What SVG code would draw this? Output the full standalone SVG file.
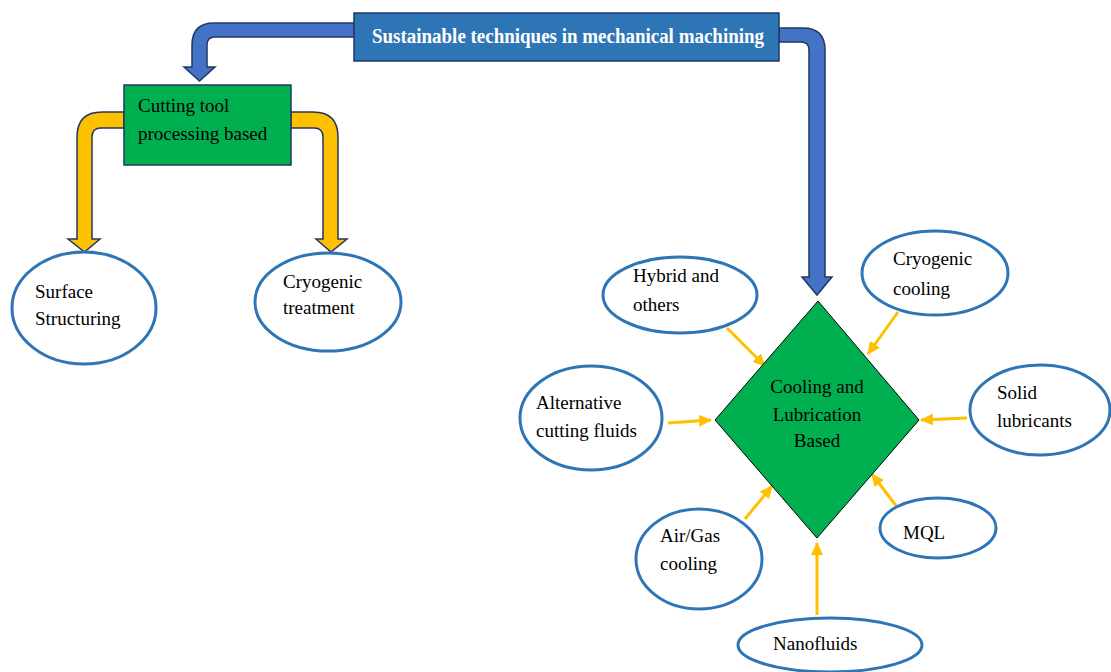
<svg xmlns="http://www.w3.org/2000/svg" width="1111" height="672" viewBox="0 0 1111 672">
<style>
.t{font-family:"Liberation Serif","Times New Roman",serif;font-size:19px;fill:#000}
.ell{fill:#fff;stroke:#2E75B6;stroke-width:3}
.blue{fill:#4472C4;stroke:#1F3864;stroke-width:1.5;stroke-linejoin:miter}
.yel{fill:#FFC000;stroke:#1F3864;stroke-width:1.5}
.thin{stroke:#FFC000;stroke-width:3;fill:none;marker-end:url(#ah)}
</style>
<defs>
<marker id="ah" markerUnits="userSpaceOnUse" markerWidth="14" markerHeight="12" refX="12" refY="6" orient="auto">
<path d="M0,0 L13,6 L0,12 Z" fill="#FFC000"/>
</marker>
</defs>
<rect width="1111" height="672" fill="#fff"/>
<g id="connectors">
<path class="blue" d="M354,23 L214,23 Q192,23 192,45 L192,67 L184,67 L199.5,81 L215,67 L207,67 L207,45 Q207,37 215,37 L354,37 Z"/>
<path class="blue" d="M779,28 L803,28 Q825,28 825,50 L825,277 L832,277 L817,295 L802,277 L809,277 L809,50 Q809,42 801,42 L779,42 Z"/>
<path class="yel" d="M124,112 L102,112 Q77,112 77,137 L77,239 L68,239 L84.5,252 L100,239 L92,239 L92,137 Q92,128 101,128 L124,128 Z"/>
<path class="yel" d="M291,112 L313,112 Q338,112 338,137 L338,239 L347,239 L331,252 L316,239 L323,239 L323,137 Q323,128 314,128 L291,128 Z"/>
<line class="thin" x1="727" y1="328" x2="765" y2="366"/>
<line class="thin" x1="898" y1="312" x2="868" y2="354"/>
<line class="thin" x1="668" y1="423" x2="711" y2="420"/>
<line class="thin" x1="967" y1="418" x2="921" y2="420"/>
<line class="thin" x1="745" y1="519" x2="772" y2="486"/>
<line class="thin" x1="897" y1="507" x2="872" y2="474"/>
<line class="thin" x1="817" y1="615" x2="817" y2="543"/>
</g>
<g id="title">
<rect x="354" y="13" width="425" height="48" fill="#2E75B6" stroke="#1F3864" stroke-width="1.5"/>
<text x="372" y="43" textLength="392" lengthAdjust="spacingAndGlyphs" style="font-family:'Liberation Serif','Times New Roman',serif;font-size:20px;font-weight:bold;fill:#fff">Sustainable techniques in mechanical machining</text>
</g>
<g id="cutting">
<rect x="124" y="85" width="167" height="80" fill="#00B050" stroke="#1F3864" stroke-width="1.5"/>
<text class="t" x="138" y="112">Cutting tool</text>
<text class="t" x="138" y="140">processing based</text>
</g>
<g id="surface">
<ellipse class="ell" cx="84" cy="308" rx="72" ry="56"/>
<text class="t" x="35" y="298">Surface</text>
<text class="t" x="35" y="325">Structuring</text>
</g>
<g id="cryotreat">
<ellipse class="ell" cx="328" cy="302" rx="73" ry="49"/>
<text class="t" x="283" y="288">Cryogenic</text>
<text class="t" x="283" y="314">treatment</text>
</g>
<g id="cooling">
<path d="M818,301 L919,420 L817,538 L715,420 Z" fill="#00B050" stroke="#000" stroke-width="1"/>
<text class="t" x="817" y="393" text-anchor="middle">Cooling and</text>
<text class="t" x="817" y="421" text-anchor="middle">Lubrication</text>
<text class="t" x="817" y="447" text-anchor="middle">Based</text>
</g>
<g id="hybrid">
<ellipse class="ell" cx="680" cy="295" rx="77" ry="38"/>
<text class="t" x="633" y="282">Hybrid and</text>
<text class="t" x="633" y="311">others</text>
</g>
<g id="cryocool">
<ellipse class="ell" cx="935" cy="273" rx="73" ry="42"/>
<text class="t" x="893" y="265">Cryogenic</text>
<text class="t" x="893" y="295">cooling</text>
</g>
<g id="alternative">
<ellipse class="ell" cx="591" cy="418" rx="71" ry="52"/>
<text class="t" x="536" y="409">Alternative</text>
<text class="t" x="536" y="437">cutting fluids</text>
</g>
<g id="solid">
<ellipse class="ell" cx="1040" cy="410" rx="70" ry="45"/>
<text class="t" x="997" y="399">Solid</text>
<text class="t" x="997" y="427">lubricants</text>
</g>
<g id="airgas">
<ellipse class="ell" cx="699" cy="559" rx="63" ry="50"/>
<text class="t" x="660" y="542">Air/Gas</text>
<text class="t" x="660" y="570">cooling</text>
</g>
<g id="mql">
<ellipse class="ell" cx="938" cy="528" rx="58" ry="30"/>
<text class="t" x="903" y="539">MQL</text>
</g>
<g id="nano">
<ellipse class="ell" cx="830" cy="645" rx="92" ry="27"/>
<text class="t" x="773" y="650">Nanofluids</text>
</g>
</svg>
